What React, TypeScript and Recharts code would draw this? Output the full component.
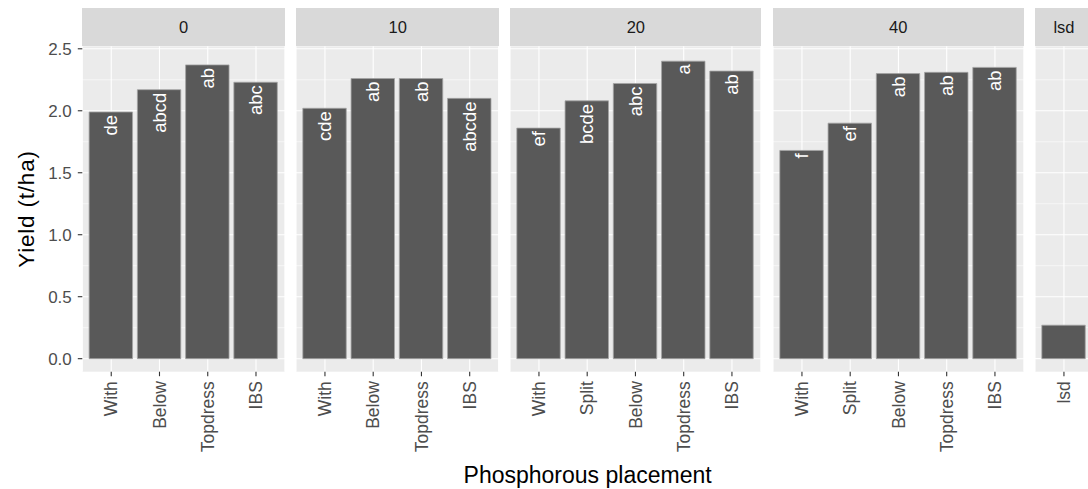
import { Bar, BarChart, CartesianGrid, LabelList, XAxis, YAxis } from "recharts";

// categories per facet
const placements4 = ["With", "Below", "Topdress", "IBS"];
const placements5 = ["With", "Split", "Below", "Topdress", "IBS"];
const lsdCats = ["lsd"];

// yield (t/ha)
const yield0 = [1.99, 2.17, 2.37, 2.23];
const yield10 = [2.02, 2.26, 2.26, 2.1];
const yield20 = [1.86, 2.08, 2.22, 2.4, 2.32];
const yield40 = [1.68, 1.9, 2.3, 2.31, 2.35];
const yieldLsd = [0.27];

// significance letters
const letters0 = ["de", "abcd", "ab", "abc"];
const letters10 = ["cde", "ab", "ab", "abcde"];
const letters20 = ["ef", "bcde", "abc", "a", "ab"];
const letters40 = ["f", "ef", "ab", "ab", "ab"];
const lettersLsd = [""];

const yTicks = [0, 0.5, 1, 1.5, 2, 2.5];
const yMinor = [0.25, 0.75, 1.25, 1.75, 2.25];

const panels = [
  { facet: "0", cats: placements4, values: yield0, letters: letters0 },
  { facet: "10", cats: placements4, values: yield10, letters: letters10 },
  { facet: "20", cats: placements5, values: yield20, letters: letters20 },
  { facet: "40", cats: placements5, values: yield40, letters: letters40 },
  { facet: "lsd", cats: lsdCats, values: yieldLsd, letters: lettersLsd },
];

// layout (px)
const FONT = '"Liberation Sans", Arial, sans-serif';
const CHART_H = 489;
const TOP = 46.3;
const BOTTOM = 371.7;
const Y_AXIS_W = 82.3;
const UNIT = 48.25;
const GAP = 11.4;
const STRIP_TOP = 8.3;

const XTick = (props: any) => {
  const { x, y, payload } = props;
  return (
    <text
      x={0}
      y={0}
      transform={`translate(${x},${y + 3}) rotate(-90)`}
      textAnchor="end"
      dy="0.35em"
      fontSize={17.5}
      fill="#4D4D4D"
      fontFamily={FONT}
    >
      {payload.value}
    </text>
  );
};

const BarLetter = (props: any) => {
  const { x, y, width, value } = props;
  if (!value) return null;
  return (
    <text
      x={0}
      y={0}
      transform={`translate(${x + width / 2},${y + 3}) rotate(-90)`}
      textAnchor="end"
      dy="0.35em"
      fontSize={18.5}
      fill="#FFFFFF"
      fontFamily={FONT}
    >
      {value}
    </text>
  );
};

function Panel({ index, left }: { index: number; left: number }) {
  const p = panels[index];
  const data = p.cats.map((c, i) => ({ cat: c, value: p.values[i], letter: p.letters[i] }));
  const panelW = (p.cats.length + 0.2) * UNIT;
  const first = index === 0;
  const chartW = first ? Y_AXIS_W + panelW : panelW;
  return (
    <>
      <div
        style={{
          position: "absolute",
          left,
          top: STRIP_TOP,
          width: panelW,
          height: TOP - STRIP_TOP,
          background: "#D9D9D9",
          color: "#1A1A1A",
          fontFamily: FONT,
          fontSize: 16.5,
          lineHeight: `${TOP - STRIP_TOP}px`,
          textAlign: "center",
        }}
      >
        {p.facet}
      </div>
      <div style={{ position: "absolute", left: first ? left - Y_AXIS_W : left, top: 0 }}>
        <BarChart
          width={chartW}
          height={CHART_H}
          data={data}
          margin={{ top: TOP, right: 0, bottom: 0, left: 0 }}
        >
          <CartesianGrid
            horizontalValues={yMinor}
            vertical={false}
            stroke="#FFFFFF"
            strokeWidth={0.55}
            fill="#EBEBEB"
          />
          <CartesianGrid horizontalValues={yTicks} stroke="#FFFFFF" strokeWidth={1.1} />
          <XAxis
            dataKey="cat"
            type="category"
            interval={0}
            height={CHART_H - BOTTOM}
            padding={{ left: 0.1 * UNIT, right: 0.1 * UNIT }}
            axisLine={false}
            tickSize={4.5}
            tickLine={{ stroke: "#333333", strokeWidth: 1.1 }}
            tick={<XTick />}
          />
          <YAxis
            hide={!first}
            width={Y_AXIS_W}
            domain={[-0.105, 2.52]}
            ticks={yTicks}
            allowDataOverflow
            tickFormatter={(v: number) => v.toFixed(1)}
            axisLine={false}
            tickSize={4.5}
            tickMargin={6}
            tickLine={{ stroke: "#333333", strokeWidth: 1.1 }}
            tick={{ fill: "#4D4D4D", fontSize: 17, fontFamily: FONT }}
          />
          <Bar
            dataKey="value"
            fill="#595959"
            stroke="#A3A3A3"
            strokeWidth={0.8}
            barSize={0.9 * UNIT}
            isAnimationActive={false}
          >
            <LabelList dataKey="letter" content={<BarLetter />} />
          </Bar>
        </BarChart>
      </div>
    </>
  );
}

export default function App() {
  const lefts: number[] = [];
  let x = Y_AXIS_W;
  panels.forEach((p) => {
    lefts.push(x);
    x += (p.cats.length + 0.2) * UNIT + GAP;
  });
  const plotRight = x - GAP;
  return (
    <div
      style={{
        position: "absolute",
        left: 0,
        top: 0,
        width: 1088,
        height: CHART_H,
        overflow: "hidden",
        background: "#FFFFFF",
      }}
    >
      {panels.map((p, i) => (
        <Panel key={p.facet} index={i} left={lefts[i]} />
      ))}
      <svg
        width={1088}
        height={CHART_H}
        style={{ position: "absolute", left: 0, top: 0, pointerEvents: "none" }}
      >
        <text
          x={(Y_AXIS_W + plotRight) / 2}
          y={483}
          textAnchor="middle"
          fontSize={23}
          fill="#000000"
          fontFamily={FONT}
        >
          Phosphorous placement
        </text>
        <text
          x={0}
          y={0}
          transform={`translate(34,${(TOP + BOTTOM) / 2}) rotate(-90)`}
          textAnchor="middle"
          fontSize={22.5}
          letterSpacing={0.8}
          fill="#000000"
          fontFamily={FONT}
        >
          Yield (t/ha)
        </text>
      </svg>
    </div>
  );
}
